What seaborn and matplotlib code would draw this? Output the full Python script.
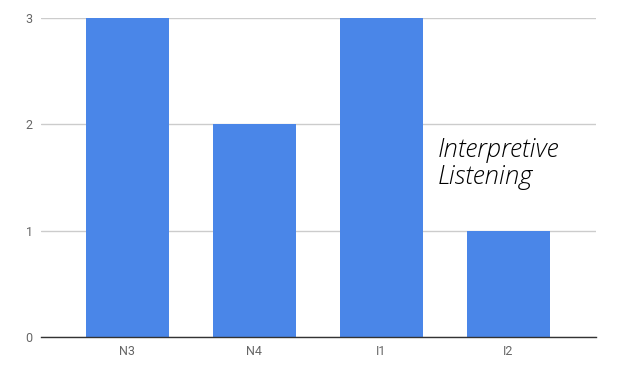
import matplotlib
matplotlib.use("Agg")
import matplotlib.pyplot as plt
import seaborn as sns
import pandas as pd

categories = ["N3", "N4", "I1", "I2"]
values = [3, 2, 3, 1]
y_ticks = [0, 1, 2, 3]
annotation = "Interpretive\nListening"

sns.set_style("white")
plt.rcParams['font.family'] = ['Roboto', 'DejaVu Sans']

df = pd.DataFrame({"cat": categories, "val": values})

fig = plt.figure(figsize=(6.21, 3.70), dpi=100)
ax = fig.add_axes([41/621, 33/370, 555/621, 319/370])
sns.barplot(data=df, x="cat", y="val", color="#4a86e8", saturation=1, width=0.65, ax=ax, zorder=3)
for p in ax.patches:
    p.set_edgecolor("none")

ax.set_ylim(0, 3)
ax.set_xlim(-0.68, 3.69)
ax.set_yticks(y_ticks)
ax.set_yticklabels([str(t) for t in y_ticks])
ax.yaxis.grid(True, color="#cccccc", linewidth=1, zorder=0)
ax.set_axisbelow(True)
for s in ["top", "right", "left"]:
    ax.spines[s].set_visible(False)
ax.spines["bottom"].set_color("#333333")
ax.spines["bottom"].set_linewidth(1)
ax.spines["bottom"].set_zorder(4)
ax.tick_params(axis="both", length=0, labelsize=9, labelcolor="#666666")
ax.tick_params(axis="y", pad=6)
ax.tick_params(axis="x", pad=6)
ax.set_xlabel("")
ax.set_ylabel("")

ax.text(2.445, 1.87, annotation, fontsize=18.5, style="italic", family=["Open Sans", "DejaVu Sans"],
        fontweight="light", color="black", va="top", ha="left", linespacing=1.1)

fig.savefig("out.png", dpi=100)
